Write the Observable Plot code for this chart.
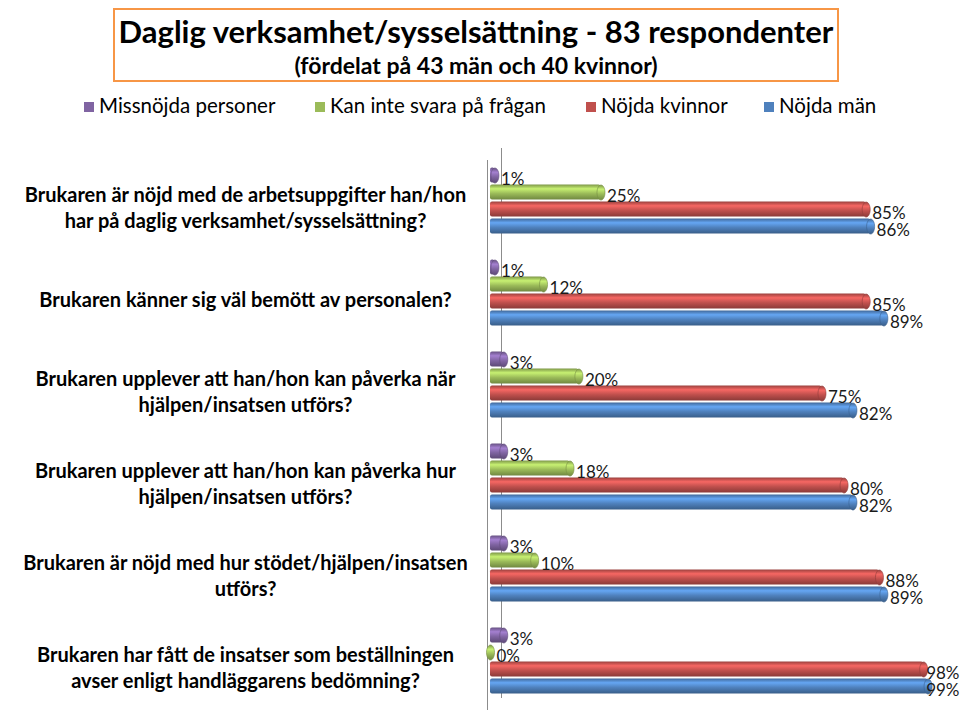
<!DOCTYPE html>
<html>
<head>
<meta charset="utf-8">
<script src="https://cdn.jsdelivr.net/npm/d3@7"></script>
<script src="https://cdn.jsdelivr.net/npm/@observablehq/plot@0.6"></script>
<style>
  html, body { margin: 0; padding: 0; background: #fff; }
  #root { position: relative; width: 960px; height: 713px; overflow: hidden; font-family: Lato, "Noto Sans", sans-serif; color: #000; }
  #titlebox { position: absolute; left: 113px; top: 8px; width: 722px; height: 70px; border: 2px solid #f79646; text-align: center; }
  #title { position: absolute; left: 0; right: 0; top: 2px; font-size: 31px; font-weight: bold; white-space: nowrap; }
  #subtitle { position: absolute; left: 0; right: 0; top: 41px; font-size: 23px; font-weight: bold; white-space: nowrap; }
  .leg { position: absolute; top: 93px; font-size: 20.5px; white-space: nowrap; }
  .leg .sw { display: inline-block; width: 10px; height: 10px; margin-right: 5px; vertical-align: 1px; }
  #chart { position: absolute; left: 0; top: 140px; }
</style>
</head>
<body>
<svg width="0" height="0" style="position:absolute">
  <defs id="defs"></defs>
</svg>
<div id="root">
  <div id="titlebox">
    <div id="title"></div>
    <div id="subtitle"></div>
  </div>
  <div id="legend"></div>
  <div id="chart"></div>
</div>
<script>
const titleText = "Daglig verksamhet/sysselsättning - 83 respondenter";
const subtitleText = "(fördelat på 43 män och 40 kvinnor)";
const categories = [
  "Brukaren är nöjd med de arbetsuppgifter han/hon\nhar på daglig verksamhet/sysselsättning?",
  "Brukaren känner sig väl bemött av personalen?",
  "Brukaren upplever att han/hon kan påverka när\nhjälpen/insatsen utförs?",
  "Brukaren upplever att han/hon kan påverka hur\nhjälpen/insatsen utförs?",
  "Brukaren är nöjd med hur stödet/hjälpen/insatsen\nutförs?",
  "Brukaren har fått de insatser som beställningen\navser enligt handläggarens bedömning?"
];
const seriesNames = ["Missnöjda personer", "Kan inte svara på frågan", "Nöjda kvinnor", "Nöjda män"];
const missnojda    = [1, 1, 3, 3, 3, 3];
const kanInteSvara = [25, 12, 20, 18, 10, 0];
const nojdaKvinnor = [85, 85, 75, 80, 88, 98];
const nojdaMan     = [86, 89, 82, 82, 89, 99];
const seriesColors = ["#8064a2", "#9bbb59", "#c0504d", "#4f81bd"];
const legendLeft = [84, 315, 586, 764];

document.getElementById("title").textContent = titleText;
document.getElementById("subtitle").textContent = subtitleText;

// gradients for cylinder look
const defs = document.getElementById("defs");
seriesColors.forEach((c, j) => {
  const base = d3.color(c);
  const stops = [
    [0, base.darker(0.6)],
    [0.28, base.brighter(0.7)],
    [0.6, base],
    [1, base.darker(0.9)]
  ];
  const g = document.createElementNS("http://www.w3.org/2000/svg", "linearGradient");
  g.setAttribute("id", "grad" + j);
  g.setAttribute("x1", "0"); g.setAttribute("y1", "0");
  g.setAttribute("x2", "0"); g.setAttribute("y2", "1");
  stops.forEach(([o, col]) => {
    const s = document.createElementNS("http://www.w3.org/2000/svg", "stop");
    s.setAttribute("offset", o);
    s.setAttribute("stop-color", col.formatHex());
    g.appendChild(s);
  });
  defs.appendChild(g);
});

// legend
const legend = document.getElementById("legend");
seriesNames.forEach((name, j) => {
  const d = document.createElement("div");
  d.className = "leg";
  d.style.left = legendLeft[j] + "px";
  d.innerHTML = `<span class="sw" style="background:${seriesColors[j]}"></span>${name}`;
  legend.appendChild(d);
});

const seriesValues = [missnojda, kanInteSvara, nojdaKvinnor, nojdaMan];
const groupStep = 92 / 17;
const rows = [];
categories.forEach((cat, i) => {
  seriesValues.forEach((vals, j) => {
    rows.push({cat, series: j, value: vals[i], pos: i * groupStep + j});
  });
});

const ellipse = {
  draw(ctx) {
    const a = 4, b = 7.5, k = 0.5523;
    ctx.moveTo(a, 0);
    ctx.bezierCurveTo(a, b * k, a * k, b, 0, b);
    ctx.bezierCurveTo(-a * k, b, -a, b * k, -a, 0);
    ctx.bezierCurveTo(-a, -b * k, -a * k, -b, 0, -b);
    ctx.bezierCurveTo(a * k, -b, a, -b * k, a, 0);
    ctx.closePath();
  }
};

const marks = [
  Plot.ruleX([0], {stroke: "#8c8c8c", dx: 11, insetBottom: 12}),
  Plot.ruleX([0], {stroke: "#8c8c8c", dx: -3, insetTop: 12})
];
seriesColors.forEach((c, j) => {
  const data = rows.filter(d => d.series === j);
  const stroke = d3.color(c).darker(0.8).formatHex();
  marks.push(
    Plot.rect(data, {x1: d => 0, x2: "value", y1: d => d.pos - 0.44, y2: d => d.pos + 0.44, fill: `url(#grad${j})`, rx: 2}),
    Plot.dot(data, {x: "value", y: "pos", symbol: ellipse, fill: `url(#grad${j})`, stroke, strokeWidth: 0.6})
  );
});
const nearEdge = d => d.value >= 95;
marks.push(
  Plot.text(rows.filter(d => !nearEdge(d)), {x: "value", y: "pos", text: d => d.value + "%", dx: 6, dy: 4, textAnchor: "start", fontSize: 17, fill: "#1a1a1a"}),
  Plot.text(rows.filter(nearEdge), {y: "pos", frameAnchor: "right", text: d => d.value + "%", dx: 27, dy: 4, textAnchor: "end", fontSize: 17, fill: "#1a1a1a"}),
  Plot.text(categories, {y: (d, i) => i * groupStep + 1.85, frameAnchor: "left", dx: -245, text: d => d, textAnchor: "middle", lineAnchor: "middle", fontWeight: "bold", fontSize: 20, lineHeight: 1.3, fill: "#000"})
);

const chart = Plot.plot({
  width: 960,
  height: 573,
  marginLeft: 490,
  marginRight: 28,
  marginTop: 8,
  marginBottom: 3,
  style: {fontFamily: "Lato, 'Noto Sans', sans-serif", background: "transparent", overflow: "visible"},
  x: {domain: [0, 100], axis: null},
  y: {domain: [-1.59, 31.47], reverse: true, axis: null},
  marks
});
document.getElementById("chart").appendChild(chart);
</script>
</body>
</html>
